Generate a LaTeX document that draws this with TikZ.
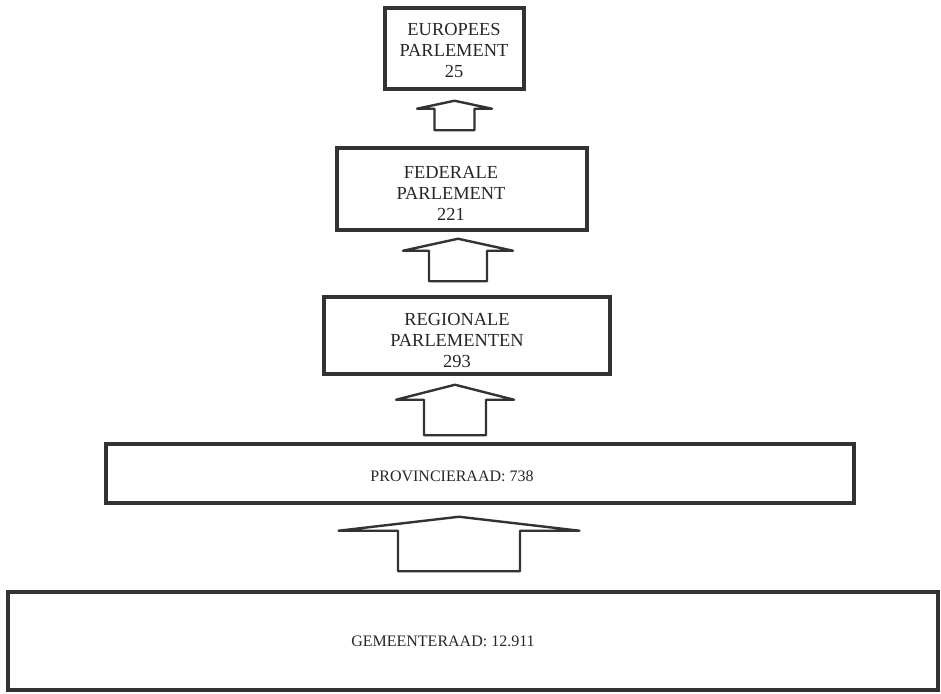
\documentclass[tikz,border=0pt]{standalone}
\usepackage{fontspec}
\setmainfont{Liberation Serif}
\usepackage{tikz}
\usetikzlibrary{calc}
\usepackage{xcolor}

\definecolor{lijn}{HTML}{333333}
\definecolor{inkt}{HTML}{262626}

% block arrow from lower box #1 up to upper box #2
% #3 x offset, #4 wing half width, #5 shaft half width, #6 top gap, #7 head, #8 bottom gap
\newcommand{\blokpijl}[8]{%
  \draw[pijl] let \p1 = (#1.north), \p2 = (#2.south) in
    ({\x2+(#3-#4)*0.75}, {\y2-(#6+#7)*0.75})
    -- ({\x2+(#3)*0.75}, {\y2-(#6)*0.75})
    -- ({\x2+(#3+#4)*0.75}, {\y2-(#6+#7)*0.75})
    -- ({\x2+(#3+#5)*0.75}, {\y2-(#6+#7)*0.75})
    -- ({\x2+(#3+#5)*0.75}, {\y1+(#8)*0.75})
    -- ({\x2+(#3-#5)*0.75}, {\y1+(#8)*0.75})
    -- ({\x2+(#3-#5)*0.75}, {\y2-(#6+#7)*0.75})
    -- cycle;}

\begin{document}
\begin{tikzpicture} [
    x = 0.75pt, y = -0.75pt,
    vak/.style = { draw = lijn, line width = 2.6pt, inner sep = 0 },
    pijl/.style = { draw = lijn, line width = 1.8pt, line join = round, fill = white },
    groot/.style = { text = inkt, align = center, inner sep = 0,
                     font = \fontsize{13.8}{15.75}\selectfont },
    klein/.style = { text = inkt, inner sep = 0, font = \fontsize{12}{13}\selectfont }
    ]

    \useasboundingbox (0,0) rectangle (941,693);

    \node [vak, minimum width = 139*0.75pt, minimum height = 81*0.75pt] (euro) at (454.5,48.5) {};
    \node [vak, minimum width = 250*0.75pt, minimum height = 82*0.75pt] (fed) at (462,189) {};
    \node [vak, minimum width = 286*0.75pt, minimum height = 77*0.75pt] (regio) at (467,335.5) {};
    \node [vak, minimum width = 748*0.75pt, minimum height = 59*0.75pt] (prov) at (480,473.5) {};
    \node [vak, minimum width = 930*0.75pt, minimum height = 98*0.75pt] (gem) at (473,641) {};

    \node [groot] (eurotxt) at (454,50) {EUROPEES\\PARLEMENT\\25};
    \node [groot] (fedtxt) at (451,193) {FEDERALE\\PARLEMENT\\221};
    \node [groot] (regiotxt) at (457,340) {REGIONALE\\PARLEMENTEN\\293};
    \node [klein] (provtxt) at (452,476) {PROVINCIERAAD: 738};
    \node [klein] (gemtxt) at (443,641) {GEMEENTERAAD: 12.911};

    \blokpijl{fed}{euro}{0}{37.5}{20}{10}{8}{16}
    \blokpijl{regio}{fed}{-4}{55}{29}{7}{12}{14}
    \blokpijl{prov}{regio}{-12}{59}{31}{9}{15}{7}
    \blokpijl{gem}{prov}{-21}{120.5}{61}{12}{14}{19}
  \end{tikzpicture}
\end{document}
